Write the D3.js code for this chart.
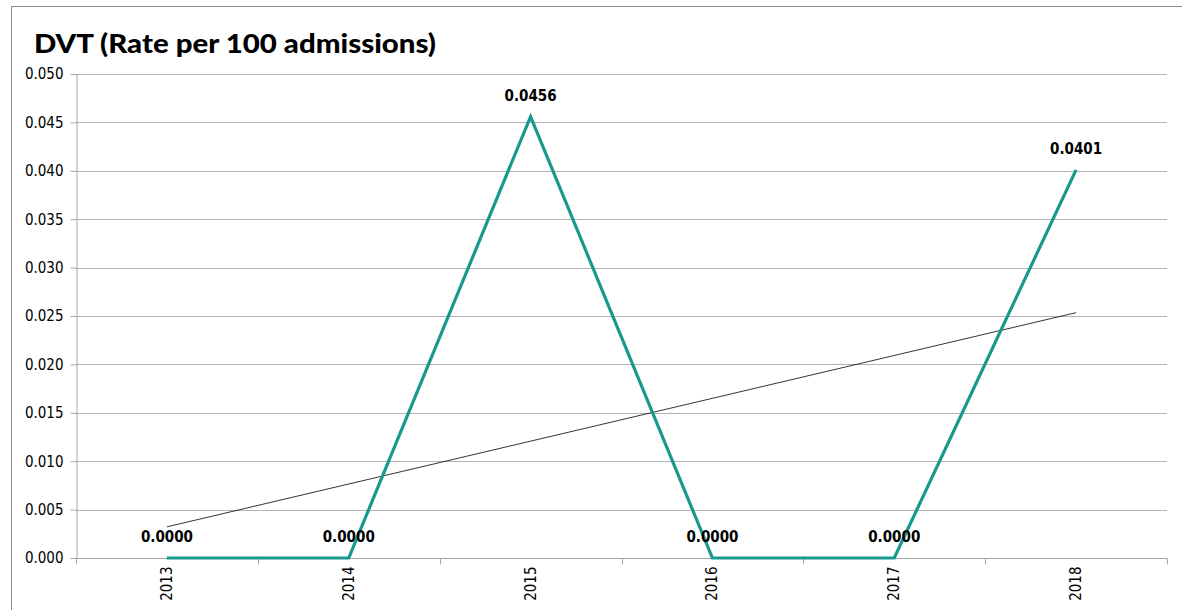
<!DOCTYPE html>
<html>
<head>
<meta charset="utf-8">
<script src="https://cdn.jsdelivr.net/npm/d3@7"></script>
<style>
  html, body { margin: 0; padding: 0; background: #ffffff; }
  svg { display: block; }
</style>
</head>
<body>
<svg id="chart" width="1182" height="610"></svg>
<script>
// Yearly DVT rate per 100 admissions
const years = ["2013", "2014", "2015", "2016", "2017", "2018"];
const rates = [0.0000, 0.0000, 0.0456, 0.0000, 0.0000, 0.0401];
const yTicks = [0, 0.005, 0.010, 0.015, 0.020, 0.025, 0.030, 0.035, 0.040, 0.045, 0.050];
const titleText = "DVT (Rate per 100 admissions)";

const svg = d3.select("#chart");
const W = 1182, H = 610;
const margin = { top: 74, right: 15, bottom: 52, left: 76 };
const plotW = W - margin.left - margin.right;
const plotH = H - margin.top - margin.bottom;

// Outer chart frame
svg.append("rect")
  .attr("x", 11.5).attr("y", 6.5)
  .attr("width", W + 20).attr("height", H + 20)
  .attr("fill", "none").attr("stroke", "#8c8c8c").attr("stroke-width", 1);

// Title
svg.append("text")
  .attr("x", 34).attr("y", 53)
  .attr("font-family", "Lato, 'DejaVu Sans', sans-serif")
  .attr("font-weight", 900)
  .attr("font-size", 27)
  .attr("textLength", 402)
  .attr("lengthAdjust", "spacingAndGlyphs")
  .attr("fill", "#000")
  .text(titleText);

const g = svg.append("g").attr("transform", `translate(${margin.left},${margin.top})`);

const x = d3.scaleBand().domain(years).range([0, plotW]).padding(0);
const y = d3.scaleLinear().domain([0, 0.05]).range([plotH, 0]);

// Horizontal gridlines
g.append("g").selectAll("line")
  .data(yTicks.filter(t => t > 0))
  .join("line")
  .attr("x1", 0).attr("x2", plotW)
  .attr("y1", d => Math.round(y(d)) + 0.5).attr("y2", d => Math.round(y(d)) + 0.5)
  .attr("stroke", "#b3b3b3").attr("stroke-width", 1);

// Y axis
const yAxis = g.append("g")
  .attr("transform", "translate(0.5,0)")
  .call(d3.axisLeft(y).tickValues(yTicks).tickFormat(d3.format(".3f")).tickSize(6).tickSizeOuter(0));
yAxis.select(".domain").attr("stroke", "#a6a6a6");
yAxis.selectAll(".tick line").attr("stroke", "#a6a6a6");
yAxis.selectAll(".tick text")
  .attr("x", -13)
  .attr("font-family", "'DejaVu Sans Condensed', 'Open Sans', sans-serif")
  .attr("font-size", 15)
  .attr("fill", "#000");

// X axis with ticks on the category boundaries
const xAxisG = g.append("g").attr("transform", `translate(0,${Math.round(plotH) + 0.5})`);
xAxisG.append("line")
  .attr("x1", 0).attr("x2", plotW)
  .attr("stroke", "#a6a6a6");
const bounds = years.map(d => x(d)).concat([plotW]);
xAxisG.selectAll("line.b")
  .data(bounds)
  .join("line")
  .attr("class", "b")
  .attr("x1", d => Math.round(d) + 0.5).attr("x2", d => Math.round(d) + 0.5)
  .attr("y1", 0).attr("y2", 6)
  .attr("stroke", "#a6a6a6");
xAxisG.selectAll("text")
  .data(years)
  .join("text")
  .attr("transform", d => `translate(${x(d) + x.bandwidth() / 2 + 5},8) rotate(-90)`)
  .attr("text-anchor", "end")
  .attr("font-family", "'DejaVu Sans Condensed', 'Open Sans', sans-serif")
  .attr("font-size", 15)
  .attr("fill", "#000")
  .text(d => d);

// Linear trend line (least squares over category index)
const n = rates.length;
const idx = d3.range(1, n + 1);
const mx = d3.mean(idx), my = d3.mean(rates);
const slope = d3.sum(idx, (i, k) => (i - mx) * (rates[k] - my)) / d3.sum(idx, i => (i - mx) * (i - mx));
const intercept = my - slope * mx;
g.append("line")
  .attr("x1", x(years[0]) + x.bandwidth() / 2)
  .attr("y1", y(intercept + slope * 1))
  .attr("x2", x(years[n - 1]) + x.bandwidth() / 2)
  .attr("y2", y(intercept + slope * n))
  .attr("stroke", "#000").attr("stroke-width", 0.8);

// Rate series
const line = d3.line()
  .x((d, i) => x(years[i]) + x.bandwidth() / 2)
  .y(d => y(d));
g.append("path")
  .datum(rates)
  .attr("d", line)
  .attr("fill", "none")
  .attr("stroke", "#17998f")
  .attr("stroke-width", 3.2)
  .attr("stroke-linejoin", "miter");

// Value labels
g.selectAll("text.val")
  .data(rates)
  .join("text")
  .attr("class", "val")
  .attr("x", (d, i) => x(years[i]) + x.bandwidth() / 2)
  .attr("y", d => y(d) - 16)
  .attr("text-anchor", "middle")
  .attr("font-family", "'DejaVu Sans Condensed', 'Open Sans', sans-serif")
  .attr("font-weight", "bold")
  .attr("font-size", 15)
  .attr("fill", "#000")
  .text(d => d.toFixed(4));
</script>
</body>
</html>
